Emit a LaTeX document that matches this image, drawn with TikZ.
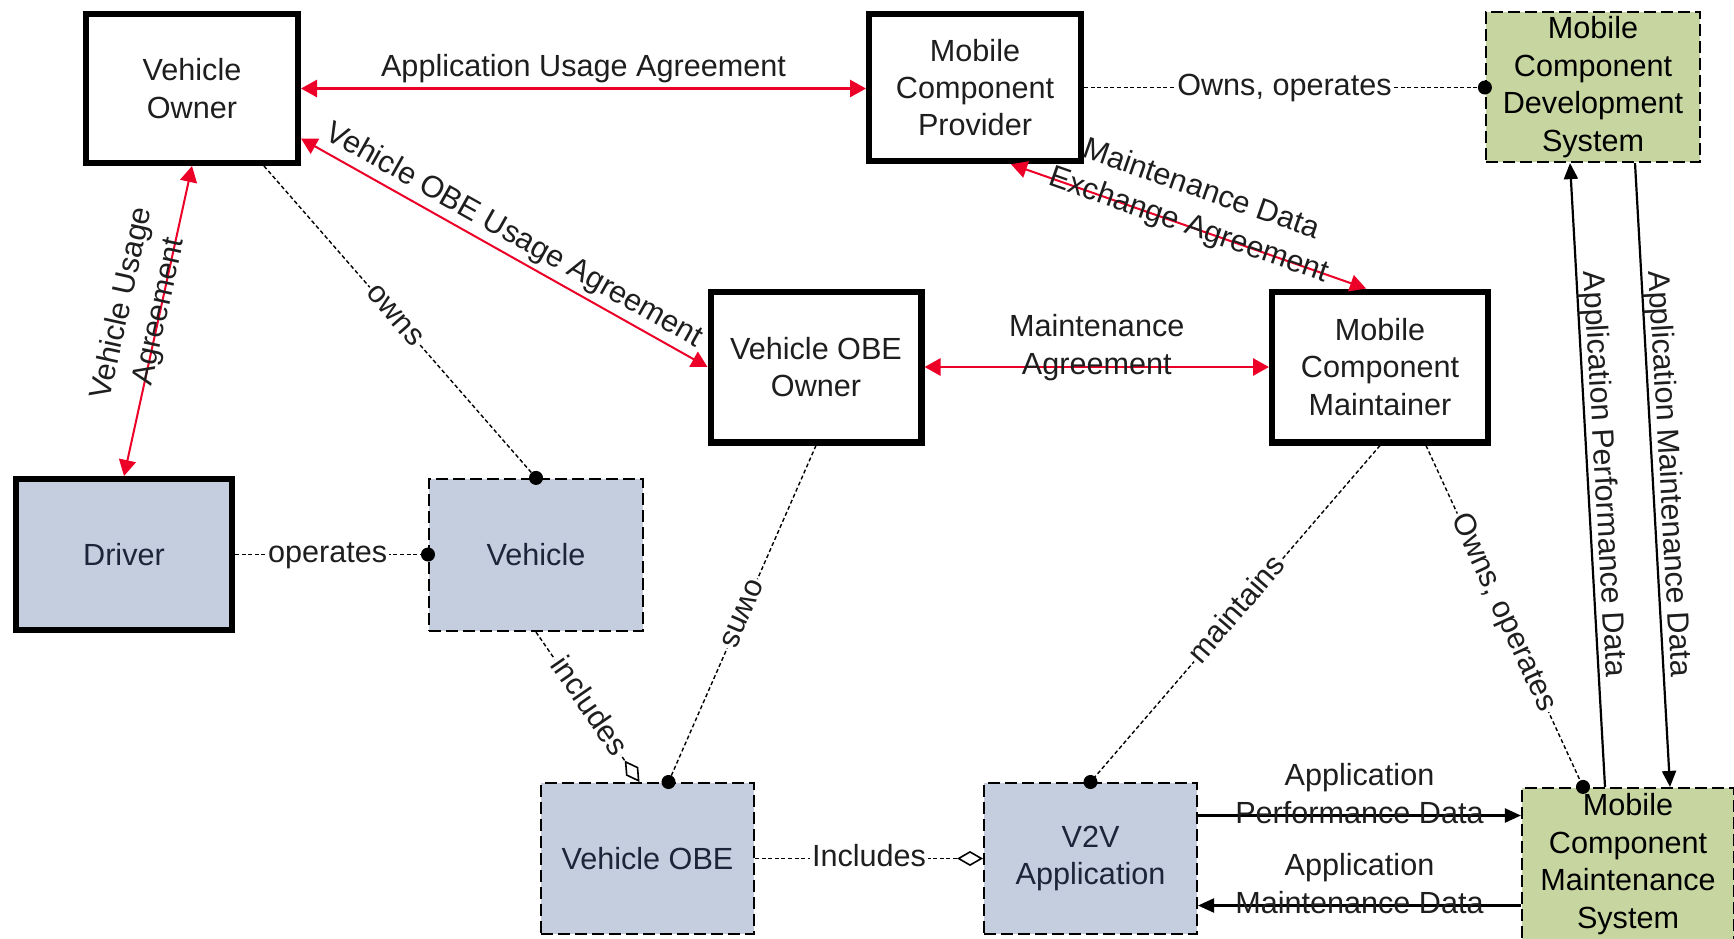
\documentclass[tikz,border=0pt]{standalone}
\usepackage{fontspec}
\setmainfont{Liberation Sans}
\usetikzlibrary{arrows.meta,calc}

\definecolor{agreered}{RGB}{236,0,40}
\definecolor{actorblue}{RGB}{196,206,222}
\definecolor{sysgreen}{RGB}{199,214,160}
\definecolor{inktext}{RGB}{30,30,30}
\definecolor{bluetext}{RGB}{28,38,58}

\tikzset{
  box/.style={rectangle, align=center, inner sep=2pt,
    font=\fontsize{15.3}{18.7}\selectfont, text=inktext},
  stakeholder/.style={box, draw=black, line width=3.2pt, fill=white},
  thickactor/.style={box, draw=black, line width=3.2pt, fill=actorblue, text=bluetext},
  physobj/.style={box, draw=black, line width=1.1pt, dash pattern=on 6pt off 2.5pt,
    fill=actorblue, text=bluetext},
  sysobj/.style={box, draw=black, line width=1.1pt, dash pattern=on 6pt off 2.5pt,
    fill=sysgreen, text=black},
  lbl/.style={font=\fontsize{15.3}{18.5}\selectfont, text=inktext, inner sep=0pt,
    text height=11pt, text depth=3.3pt},
  onrel/.style={lbl, fill=white, inner sep=1pt},
  agree/.style={draw=agreered, line width=1.4pt, >={Triangle[length=8pt,width=8.5pt]}, <->},
  agreethin/.style={agree, line width=1pt},
  relation/.style={draw=black, line width=0.7pt, dash pattern=on 2pt off 1.3pt},
  reldot/.style={relation, arrows={-Circle[length=7pt]}, shorten >=-3.5pt},
  reldiamond/.style={relation, arrows={-Diamond[open,length=13pt,width=7.5pt,line width=0.8pt]}},
  flow/.style={draw=black, line width=1.1pt, >={Triangle[length=8pt,width=7pt]}, ->},
}

\begin{document}
\begin{tikzpicture}[x=0.5pt, y=-0.5pt]
  \useasboundingbox (0,0) rectangle (1734,938);
  \clip (0,0) rectangle (1734,938);
  \fill[white] (0,0) rectangle (1734,938);

  % stakeholders and objects
  \node[stakeholder, minimum width=105.8pt, minimum height=74.3pt] (vo) at (192,88.5) {Vehicle\\Owner};
  \node[stakeholder, minimum width=105.8pt, minimum height=73.5pt] (mcp) at (975,87.5) {Mobile\\Component\\Provider};
  \node[sysobj, minimum width=107pt, minimum height=75pt] (mcds) at (1593,87) {Mobile\\Component\\Development\\System};
  \node[stakeholder, minimum width=105.3pt, minimum height=75.3pt] (voo) at (816,367) {Vehicle OBE\\Owner};
  \node[stakeholder, minimum width=107.8pt, minimum height=75.3pt] (mcm) at (1380,367) {Mobile\\Component\\Maintainer};
  \node[thickactor, minimum width=107.8pt, minimum height=75.3pt] (driver) at (124,554.5) {Driver};
  \node[physobj, minimum width=106.9pt, minimum height=76pt] (vehicle) at (536,555) {Vehicle};
  \node[physobj, minimum width=106.4pt, minimum height=75.4pt] (vobe) at (647.5,858.5) {Vehicle OBE};
  \node[physobj, minimum width=106.4pt, minimum height=75.4pt] (v2v) at (1090.5,858.5) {V2V\\Application};
  \node[sysobj, minimum width=106pt, minimum height=76pt] (mcms) at (1628,864) {Mobile\\Component\\Maintenance\\System};

  % agreements
  \draw[agree] (vo.east) -- (vo.east -| mcp.west)
    node[lbl, midway, above=2pt] {Application Usage Agreement};
  \draw[agreethin] ([yshift=-25pt]vo.east) -- (voo.west)
    node[lbl, midway, sloped, above=2pt] {Vehicle OBE Usage Agreement};
  \draw[agreethin] (vo.south) -- (driver.north)
    node[lbl, pos=.47, sloped, above=11.3pt] {Vehicle Usage}
    node[lbl, pos=.47, sloped] {Agreement};
  \draw[agreethin] ([xshift=18pt]mcp.south) -- ([xshift=-7pt]mcm.north)
    node[lbl, midway, sloped, above=11.3pt] {Maintenance Data}
    node[lbl, midway, sloped] {Exchange Agreement};
  \draw[agree] (voo.east) -- (voo.east -| mcm.west)
    node[lbl, midway, above=11.3pt] {Maintenance}
    node[lbl, midway] {Agreement};

  % ownership and composition relations
  \draw[reldot] (mcp.east) -- (mcp.east -| mcds.west)
    node[onrel, midway] {Owns, operates};
  \draw[reldot] ([xshift=36pt]vo.south) -- (vehicle.north)
    node[onrel, pos=.48, sloped] {owns};
  \draw[reldot] (driver.east) -- (driver.east -| vehicle.west)
    node[onrel, pos=.48] {operates};
  \draw[reldiamond] (vehicle.south) -- ([xshift=-4pt]vobe.north)
    node[onrel, midway, sloped] {includes};
  \draw[reldot] (voo.south) -- ([xshift=10.5pt]vobe.north)
    node[onrel, midway, sloped, allow upside down] {owns};
  \draw[reldot] (mcm.south) -- (v2v.north)
    node[onrel, pos=.49, sloped] {maintains};
  \draw[reldot] ([xshift=23pt]mcm.south) -- ([xshift=-22.5pt]mcms.north)
    node[onrel, pos=.49, sloped] {Owns, operates};
  \draw[reldiamond] (vobe.east) -- (vobe.east -| v2v.west)
    node[onrel, midway] {Includes};

  % data flows
  \coordinate (perfA) at ([yshift=21.5pt]v2v.east);
  \coordinate (perfB) at (perfA -| mcms.west);
  \coordinate (maintA) at ([yshift=-23.5pt]v2v.east);
  \coordinate (maintB) at (maintA -| mcms.west);
  \draw[flow] (perfA) -- (perfB)
    node[lbl, midway, above=11.3pt] {Application}
    node[lbl, midway] {Performance Data};
  \draw[flow] (maintB) -- (maintA)
    node[lbl, midway, above=11.3pt] {Application}
    node[lbl, midway] {Maintenance Data};
  \draw[flow] ([xshift=-11.5pt]mcms.north) -- ([xshift=-11.5pt]mcds.south)
    node[lbl, midway, sloped, above=0pt] {Application Performance Data};
  \draw[flow] ([xshift=21pt]mcds.south) -- ([xshift=21pt]mcms.north)
    node[lbl, midway, sloped, above=0pt] {Application Maintenance Data};
\end{tikzpicture}
\end{document}
